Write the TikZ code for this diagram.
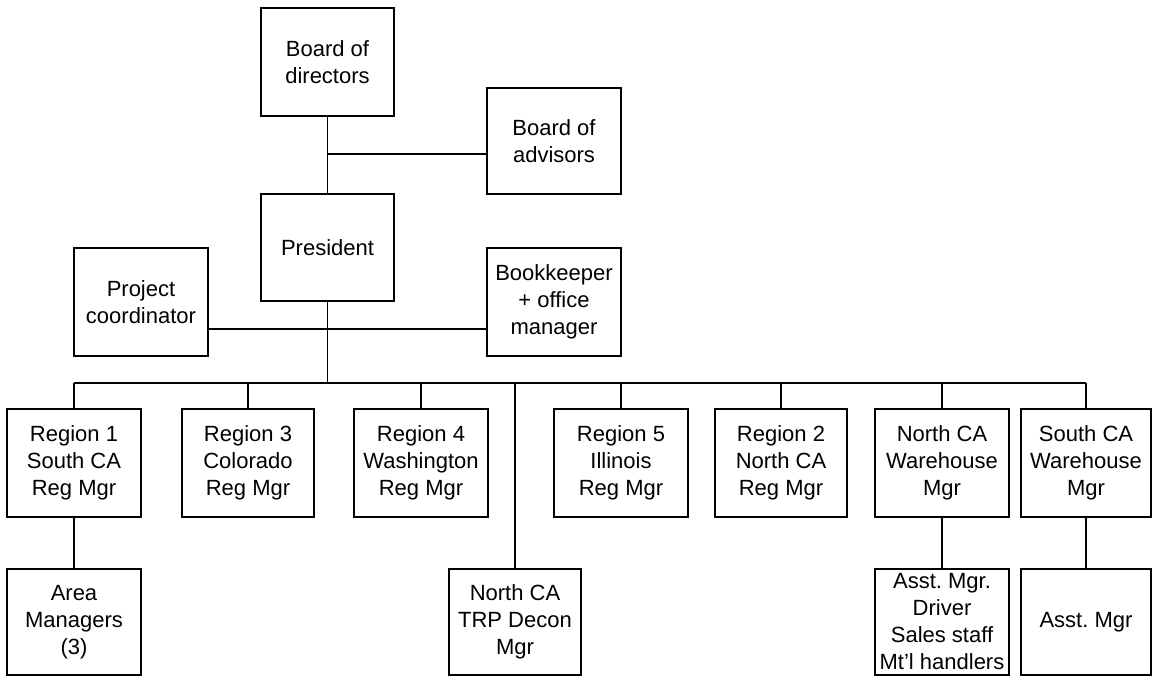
\documentclass[tikz,border=0pt]{standalone}
\usepackage{fontspec}
\setmainfont{Liberation Sans}
\frenchspacing
\begin{document}
\begin{tikzpicture}[x=1pt,y=-1pt,
  box/.style={draw,line width=1.5pt,inner sep=0pt,align=center,
    font=\fontsize{22pt}{27pt}\selectfont},
  link/.style={line width=1.5pt}]
\useasboundingbox (0,0) rectangle (1152,677);
% top
\node[box,minimum width=133pt,minimum height=108pt] (bod) at (327.5,62) {Board of\\directors};
\node[box,minimum width=134pt,minimum height=106pt] (boa) at (554,141) {Board of\\advisors};
\node[box,minimum width=133pt,minimum height=107pt] (pres) at (327.5,247.5) {President};
\node[box,minimum width=134pt,minimum height=108pt] (pc) at (141,302) {Project\\coordinator};
\node[box,minimum width=134pt,minimum height=108pt] (bk) at (554,302) {Bookkeeper\\+ office\\manager};
% regions
\node[box,minimum width=134pt,minimum height=108pt] (r1) at (74,463) {Region 1\\South CA\\Reg Mgr};
\node[box,minimum width=132pt,minimum height=108pt] (r3) at (248,463) {Region 3\\Colorado\\Reg Mgr};
\node[box,minimum width=134pt,minimum height=108pt] (r4) at (421,463) {Region 4\\Washington\\Reg Mgr};
\node[box,minimum width=134pt,minimum height=108pt] (r5) at (621,463) {Region 5\\Illinois\\Reg Mgr};
\node[box,minimum width=132pt,minimum height=108pt] (r2) at (781,463) {Region 2\\North CA\\Reg Mgr};
\node[box,minimum width=134pt,minimum height=108pt] (nwh) at (942,463) {North CA\\Warehouse\\Mgr};
\node[box,minimum width=130pt,minimum height=108pt] (swh) at (1086,463) {South CA\\Warehouse\\Mgr};
% bottom
\node[box,minimum width=134pt,minimum height=106pt] (am) at (74,622) {Area\\Managers\\(3)};
\node[box,minimum width=132pt,minimum height=106pt] (trp) at (515,622) {North CA\\TRP Decon\\Mgr};
\node[box,minimum width=134pt,minimum height=106pt] (asst1) at (942,622) {Asst. Mgr.\\Driver\\Sales staff\\Mt'l handlers};
\node[box,minimum width=130pt,minimum height=106pt] (asst2) at (1086,622) {Asst. Mgr};
% junctions
\coordinate (j1) at (327.5,154);
\coordinate (j2) at (327.5,329);
\coordinate (bus) at (327.5,383);
% connectors
\draw[link] (bod.south) -- (pres.north);
\draw[link] (j1) -- (j1 -| boa.west);
\draw[link] (j2 -| pc.east) -- (j2 -| bk.west);
\draw[link] (pres.south) -- (bus);
\draw[link] (bus -| r1.north) -- (bus -| swh.north);
\foreach \n in {r1,r3,r4,r5,r2,nwh,swh,trp}
  \draw[link] (bus -| \n.north) -- (\n.north);
\draw[link] (r1.south) -- (am.north);
\draw[link] (nwh.south) -- (asst1.north);
\draw[link] (swh.south) -- (asst2.north);
\end{tikzpicture}
\end{document}
